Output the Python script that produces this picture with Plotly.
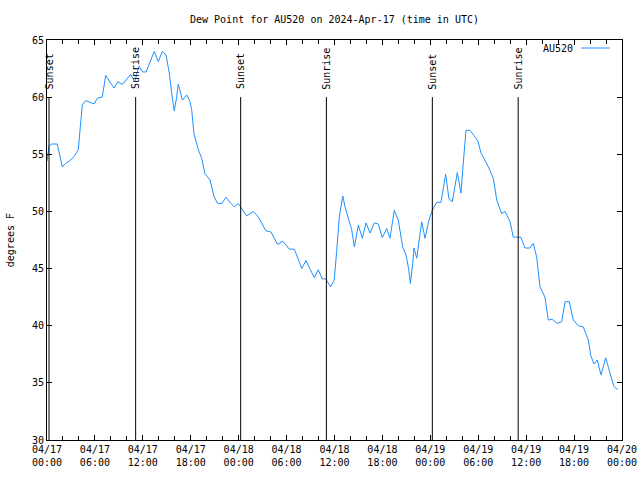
import plotly.graph_objects as go

# ---- data ----
times = [
    "2024-04-17 00:00", "2024-04-17 00:15", "2024-04-17 00:32", "2024-04-17 01:17", "2024-04-17 01:55",
    "2024-04-17 02:20", "2024-04-17 02:58", "2024-04-17 03:23", "2024-04-17 03:55", "2024-04-17 04:08",
    "2024-04-17 04:25", "2024-04-17 04:51", "2024-04-17 05:28", "2024-04-17 05:53", "2024-04-17 06:18",
    "2024-04-17 06:55", "2024-04-17 07:21", "2024-04-17 07:51", "2024-04-17 08:23", "2024-04-17 08:53",
    "2024-04-17 09:26", "2024-04-17 10:29", "2024-04-17 10:59", "2024-04-17 11:31", "2024-04-17 11:59",
    "2024-04-17 12:24", "2024-04-17 12:54", "2024-04-17 13:26", "2024-04-17 13:56", "2024-04-17 14:26",
    "2024-04-17 14:54", "2024-04-17 15:19", "2024-04-17 15:37", "2024-04-17 15:56", "2024-04-17 16:14",
    "2024-04-17 16:26", "2024-04-17 16:39", "2024-04-17 16:57", "2024-04-17 17:30", "2024-04-17 17:54",
    "2024-04-17 18:07", "2024-04-17 18:24", "2024-04-17 18:57", "2024-04-17 19:22", "2024-04-17 19:47",
    "2024-04-17 20:25", "2024-04-17 20:55", "2024-04-17 21:22", "2024-04-17 21:53", "2024-04-17 22:25",
    "2024-04-17 22:55", "2024-04-17 23:27", "2024-04-17 23:57",
    "2024-04-18 00:18", "2024-04-18 01:00", "2024-04-18 01:50", "2024-04-18 02:28", "2024-04-18 03:25",
    "2024-04-18 04:03", "2024-04-18 04:53", "2024-04-18 05:31", "2024-04-18 06:20", "2024-04-18 06:58",
    "2024-04-18 07:54", "2024-04-18 08:26", "2024-04-18 09:28", "2024-04-18 09:58", "2024-04-18 10:28",
    "2024-04-18 10:54", "2024-04-18 11:31", "2024-04-18 11:58", "2024-04-18 12:17", "2024-04-18 12:36",
    "2024-04-18 13:02", "2024-04-18 13:19", "2024-04-18 13:44", "2024-04-18 14:09", "2024-04-18 14:29",
    "2024-04-18 14:59", "2024-04-18 15:29", "2024-04-18 15:57", "2024-04-18 16:27", "2024-04-18 16:59",
    "2024-04-18 17:29", "2024-04-18 17:59", "2024-04-18 18:32", "2024-04-18 18:57", "2024-04-18 19:29",
    "2024-04-18 19:59", "2024-04-18 20:32", "2024-04-18 20:57", "2024-04-18 21:18", "2024-04-18 21:30",
    "2024-04-18 21:48", "2024-04-18 21:57", "2024-04-18 22:18", "2024-04-18 22:37", "2024-04-18 22:55",
    "2024-04-18 23:20", "2024-04-18 23:50",
    "2024-04-19 00:15", "2024-04-19 00:48", "2024-04-19 01:20", "2024-04-19 01:55", "2024-04-19 02:20",
    "2024-04-19 02:45", "2024-04-19 03:23", "2024-04-19 03:50", "2024-04-19 04:03", "2024-04-19 04:20",
    "2024-04-19 04:28", "2024-04-19 04:58", "2024-04-19 05:56", "2024-04-19 06:21", "2024-04-19 07:16",
    "2024-04-19 07:53", "2024-04-19 08:19", "2024-04-19 08:56", "2024-04-19 09:21", "2024-04-19 09:59",
    "2024-04-19 10:23", "2024-04-19 11:19", "2024-04-19 11:51", "2024-04-19 12:29", "2024-04-19 12:54",
    "2024-04-19 13:19", "2024-04-19 13:44", "2024-04-19 14:21", "2024-04-19 14:46", "2024-04-19 15:16",
    "2024-04-19 15:54", "2024-04-19 16:27", "2024-04-19 16:52", "2024-04-19 17:24", "2024-04-19 17:54",
    "2024-04-19 18:32", "2024-04-19 19:09", "2024-04-19 19:47", "2024-04-19 20:05", "2024-04-19 20:30",
    "2024-04-19 20:54", "2024-04-19 21:22", "2024-04-19 21:58", "2024-04-19 22:30", "2024-04-19 22:58",
    "2024-04-19 23:28",
]
dew_point = [
    54.4, 55.7, 55.9, 55.9, 53.9,
    54.2, 54.5, 54.8, 55.4, 57.1,
    59.3, 59.7, 59.5, 59.4, 59.9,
    60.0, 61.9, 61.35, 60.8, 61.35,
    61.1, 62.0, 61.35, 62.7, 62.2,
    62.2, 63.0, 64.0, 63.1, 64.0,
    63.7, 62.1, 60.3, 58.8, 60.0,
    61.15, 60.6, 59.75, 60.2, 59.6,
    58.9, 56.8, 55.4, 54.65, 53.3,
    52.75, 51.3, 50.7, 50.7, 51.25,
    50.8, 50.4, 50.7,
    50.3, 49.6, 50.0, 49.5, 48.3,
    48.2, 47.1, 47.4, 46.7, 46.7,
    45.0, 45.7, 44.2, 44.9, 44.1,
    44.1, 43.4, 44.0, 46.6, 49.5,
    51.35, 50.4, 49.4, 48.4, 46.9,
    48.8, 47.65, 49.0, 48.1, 49.0,
    48.9, 47.7, 48.5, 47.65, 50.1,
    49.25, 46.9, 46.2, 44.9, 43.7,
    45.5, 46.8, 45.9, 47.5, 49.1,
    47.65, 49.25,
    50.1, 50.8, 50.8, 53.25, 51.1,
    50.85, 53.4, 51.6, 53.6, 56.3,
    57.1, 57.1, 56.2, 55.1, 53.9,
    52.9, 51.0, 49.8, 50.0, 49.1,
    47.75, 47.75, 46.8, 46.8, 47.2,
    46.0, 43.4, 42.5, 40.5, 40.56,
    40.2, 40.35, 42.1, 42.1, 40.5,
    40.0, 39.9, 38.75, 37.4, 36.65,
    37.0, 35.7, 37.2, 35.85, 34.7,
    34.4,
]
series_name = "AU520"

event_times = ["2024-04-17 00:15", "2024-04-17 11:06", "2024-04-18 00:15",
               "2024-04-18 10:59", "2024-04-19 00:15", "2024-04-19 11:00"]
event_labels = ["Sunset", "Sunrise", "Sunset", "Sunrise", "Sunset", "Sunrise"]
event_top = 60.0

title_text = "Dew Point for AU520 on 2024-Apr-17 (time in UTC)"
y_title = "degrees F"
x_range = ["2024-04-17 00:00", "2024-04-20 00:00"]
y_range = [30, 65]

# ---- figure ----
FONT = "DejaVu Sans Mono"
fig = go.Figure()
fig.add_trace(go.Scatter(x=times, y=dew_point, mode="lines", name=series_name,
                         line=dict(color="#1e90ff", width=1), showlegend=False))

for t, lab in zip(event_times, event_labels):
    fig.add_shape(type="line", xref="x", yref="y", x0=t, x1=t, y0=y_range[0], y1=event_top,
                  line=dict(color="black", width=1))
    fig.add_annotation(x=t, y=event_top + 0.5, xref="x", yref="y", text=lab, textangle=-90,
                       showarrow=False, xanchor="center", yanchor="bottom",
                       font=dict(family=FONT, size=10, color="black"))

# legend (gnuplot style: text then line sample)
fig.add_annotation(x=0.918, y=0.98, xref="paper", yref="paper", text=series_name,
                   showarrow=False, xanchor="right", yanchor="middle",
                   font=dict(family=FONT, size=10, color="black"))
fig.add_shape(type="line", xref="paper", yref="paper", x0=0.929, x1=0.979, y0=0.98, y1=0.98,
              line=dict(color="#1e90ff", width=1))

# y axis title
fig.add_annotation(x=-0.064, y=0.5, xref="paper", yref="paper", text=y_title, textangle=-90,
                   showarrow=False, xanchor="center", yanchor="middle",
                   font=dict(family=FONT, size=10, color="black"))

fig.update_layout(
    width=640, height=480,
    margin=dict(l=47, r=18, t=40, b=40),
    paper_bgcolor="white", plot_bgcolor="white",
    font=dict(family=FONT, size=10, color="black"),
    title=dict(text=title_text, x=0.5, xref="paper", y=1 - 19 / 480, yref="container",
               xanchor="center", yanchor="middle", font=dict(family=FONT, size=10, color="black")),
    showlegend=False,
)
fig.update_xaxes(
    range=x_range, type="date", showgrid=False, zeroline=False, automargin=False,
    showline=True, linecolor="black", linewidth=1, mirror="ticks",
    ticks="inside", ticklen=5, tickcolor="black", tickwidth=1,
    dtick=6 * 3600 * 1000, tick0="2024-04-17 00:00", tickformat="%m/%d<br>%H:%M",
    minor=dict(dtick=2 * 3600 * 1000, ticks="inside", ticklen=4, tickcolor="black", showgrid=False),
    tickfont=dict(family=FONT, size=10, color="black"),
)
fig.update_yaxes(
    range=y_range, showgrid=False, zeroline=False, automargin=False,
    showline=True, linecolor="black", linewidth=1, mirror="ticks",
    ticks="inside", ticklen=5, tickcolor="black", tickwidth=1,
    dtick=5, tick0=30,
    tickfont=dict(family=FONT, size=10, color="black"),
)

fig.write_html("out.html")
